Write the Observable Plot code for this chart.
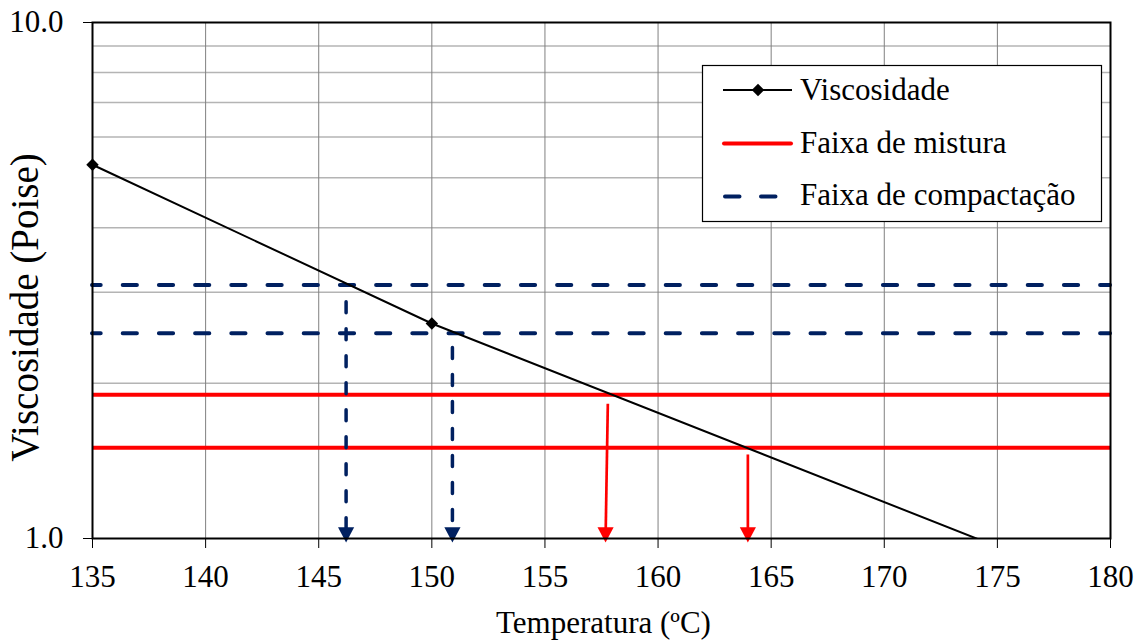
<!DOCTYPE html>
<html>
<head>
<meta charset="utf-8">
<script src="https://cdn.jsdelivr.net/npm/d3@7"></script>
<script src="https://cdn.jsdelivr.net/npm/@observablehq/plot@0.6"></script>
<style>
  html, body { margin: 0; padding: 0; background: #fff; overflow: hidden; }
  #chart svg { display: block; }
  #chart svg, #chart svg g, #chart svg text {
    font-family: "Liberation Serif", "Times New Roman", serif !important;
    font-variant: normal !important;
  }
</style>
</head>
<body>
<div id="chart"></div>
<script>
// Viscosity–temperature curve of the binder (Poise, log scale)
const temps = [135, 150, 177];
const viscosity = [5.30, 2.61, 0.89];

// Viscosity bands for mixing and compaction
const mixingRange = [1.5, 1.9];
const compactionRange = [2.5, 3.1];

const compactionTemps = [146.21, 150.91];
const compactionStart = [2.87, 2.34];
const mixingTempsTop = [157.78, 163.97];
const mixingTempsBottom = [157.68, 163.97];
const mixingStart = [1.824, 1.455];

// Axis ticks and grid
const xTicks = [135, 140, 145, 150, 155, 160, 165, 170, 175, 180];
const yTicks = [1, 10];
const minorGrid = [2, 3, 4, 5, 6, 7, 8, 9];

const legendLabels = ["Viscosidade", "Faixa de mistura", "Faixa de compactação"];

const RED = "#ff0000";
const NAVY = "#002060";
const FONT = "'Liberation Serif', 'Times New Roman', serif";

const curve = temps.map((t, i) => ({t, v: viscosity[i]}));
const compactionArrows = compactionTemps.map((t, i) => ({t, v0: compactionStart[i]}));
const mixingArrows = mixingTempsTop.map((t, i) => ({t1: t, t2: mixingTempsBottom[i], v0: mixingStart[i]}));

// Filled arrowhead pointing down, with its tip at the origin
const headDown = {
  draw(ctx, size) {
    const s = Math.sqrt(size * 4 / Math.sqrt(3));
    const h = s * 0.95;
    ctx.moveTo(-s / 2, -h);
    ctx.lineTo(s / 2, -h);
    ctx.lineTo(0, 0);
    ctx.closePath();
  }
};

const chart = Plot.plot({
  width: 1142,
  height: 644,
  marginLeft: 92,
  marginRight: 32,
  marginTop: 22,
  marginBottom: 106,
  style: {fontFamily: FONT, fontSize: "31px", color: "#000", background: "#fff"},
  x: {domain: [135, 180]},
  y: {type: "log", domain: [1, 10]},
  marks: [
    Plot.ruleY(minorGrid, {stroke: "#b4b4b4", strokeWidth: 1.5}),
    Plot.ruleX(xTicks.slice(1, -1), {stroke: "#808080", strokeWidth: 1}),
    Plot.ruleY(compactionRange, {stroke: NAVY, strokeWidth: 4, strokeDasharray: "14.2,22", strokeDashoffset: 5.5, strokeLinecap: "round"}),
    Plot.ruleY(mixingRange, {stroke: RED, strokeWidth: 4}),
    // arrows from the band limits down to the temperature axis
    Plot.ruleX(compactionArrows, {x: "t", y1: "v0", y2: 1, stroke: NAVY, strokeWidth: 3.5, strokeDasharray: "11,16", strokeLinecap: "round"}),
    Plot.link(mixingArrows, {x1: "t1", x2: "t2", y1: "v0", y2: () => 1, stroke: RED, strokeWidth: 2.7}),
    Plot.dot(compactionArrows, {x: "t", y: () => 1, symbol: headDown, r: 6, fill: NAVY, stroke: "none", dy: 4}),
    Plot.dot(mixingArrows, {x: "t2", y: () => 1, symbol: headDown, r: 6, fill: RED, stroke: "none", dy: 4}),
    Plot.line(curve, {x: "t", y: "v", stroke: "#000", strokeWidth: 2, clip: true}),
    Plot.dot(curve.filter(d => d.t <= 180 && d.v >= 1), {x: "t", y: "v", symbol: "diamond2", r: 5.6, fill: "#000", stroke: "none"}),
    Plot.frame({stroke: "#000", strokeWidth: 2}),
    Plot.axisX({ticks: xTicks, tickSize: 10, tickPadding: 16, label: null, fontSize: 31, fontFamily: FONT, fontVariant: "normal"}),
    Plot.axisY({ticks: yTicks, tickFormat: d3.format(".1f"), tickSize: 9, tickPadding: 20, label: null, fontSize: 31, fontFamily: FONT, fontVariant: "normal"}),
    Plot.text(["Viscosidade (Poise)"], {frameAnchor: "left", dx: -67, dy: 27, rotate: -90, textAnchor: "middle", lineAnchor: "middle", fontSize: 39, fontFamily: FONT}),
    Plot.text(["Temperatura (ºC)"], {frameAnchor: "bottom", dx: 2, dy: 85, textAnchor: "middle", lineAnchor: "middle", fontSize: 31, fontFamily: FONT})
  ]
});

// Legend box drawn inside the plot area
const svg = d3.select(chart);
const lg = svg.append("g")
  .attr("font-family", FONT)
  .attr("font-size", 31)
  .attr("text-anchor", "start");
lg.append("rect")
  .attr("x", 702.5).attr("y", 65.5).attr("width", 399).attr("height", 156)
  .attr("fill", "#fff").attr("stroke", "#000").attr("stroke-width", 1.2);
const rowY = [90, 143.5, 196.5];
const textY = [100, 153, 205];
// row 1: line with diamond marker
lg.append("line").attr("x1", 723).attr("x2", 792).attr("y1", rowY[0]).attr("y2", rowY[0])
  .attr("stroke", "#000").attr("stroke-width", 2);
lg.append("path").attr("d", d3.symbol(d3.symbolDiamond2, Math.PI * 5.6 * 5.6)())
  .attr("transform", `translate(758,${rowY[0]})`).attr("fill", "#000");
// row 2: solid red
lg.append("line").attr("x1", 724).attr("x2", 791).attr("y1", rowY[1]).attr("y2", rowY[1])
  .attr("stroke", RED).attr("stroke-width", 4).attr("stroke-linecap", "round");
// row 3: navy dashes
lg.append("line").attr("x1", 725).attr("x2", 776).attr("y1", rowY[2]).attr("y2", rowY[2])
  .attr("stroke", NAVY).attr("stroke-width", 4).attr("stroke-linecap", "round")
  .attr("stroke-dasharray", "14.5,21.5");
lg.selectAll("text.lab").data(legendLabels).join("text")
  .attr("class", "lab")
  .attr("x", 800).attr("y", (d, i) => textY[i])
  .attr("fill", "#000")
  .text(d => d);

document.getElementById("chart").appendChild(chart);
</script>
</body>
</html>
